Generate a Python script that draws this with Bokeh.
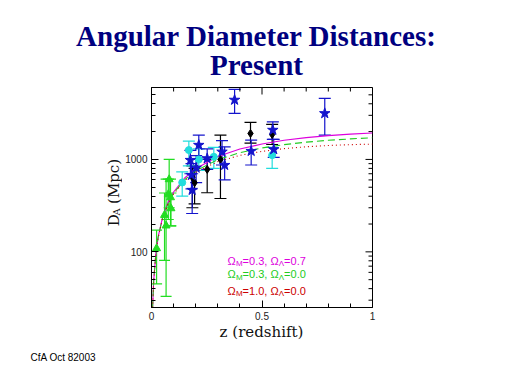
import math
from bokeh.plotting import figure
from bokeh.layouts import column, row
from bokeh.models import (Range1d, FixedTicker, Whisker, TeeHead,
                          ColumnDataSource, Label)
from bokeh.embed import file_html
from bokeh.resources import INLINE

# ---------------- data ----------------
title_lines = ["Angular Diameter Distances:", "Present"]
x_label = "z (redshift)"
y_label_parts = ["D", "A", "(Mpc)"]
footer = "CfA Oct 82003"
x_ticks = [0, 0.5, 1]
x_tick_labels = ["0", "0.5", "1"]
x_minor = [0.1, 0.2, 0.3, 0.4, 0.6, 0.7, 0.8, 0.9]
y_ticks = [100, 1000]
y_tick_labels = ["100", "1000"]
y_minor = [30, 40, 50, 60, 70, 80, 90, 200, 300, 400, 500, 600, 700, 800, 900,
           2000, 3000, 4000, 5000, 6000]

# model curves
z_model = [0.005, 0.01, 0.02, 0.03, 0.05, 0.075, 0.1, 0.15, 0.2, 0.3, 0.4, 0.5,
           0.6, 0.7, 0.8, 0.9, 1.0]
D_lcdm = [25, 49, 98, 145, 236, 344, 444, 630, 794, 1073, 1294, 1470, 1610, 1721,
          1808, 1876, 1929]
D_open = [25, 49, 97, 143, 232, 335, 431, 603, 752, 996, 1184, 1331, 1446, 1538,
          1610, 1668, 1714]
D_eds = [25, 49, 97, 142, 230, 330, 423, 587, 726, 946, 1106, 1223, 1309, 1371,
         1415, 1445, 1464]

# green triangles
g_z = [0.023, 0.059, 0.066, 0.076, 0.080, 0.086, 0.088]
g_D = [109, 250, 192, 418, 608, 388, 295]
g_lo = [45, 81, 33, 224, 300, 191, 191]
g_hi = [172, 433, 612, 612, 1000, 612, 433]

# cyan points
c_z = [0.139, 0.169, 0.214, 0.282, 0.546]
c_D = [563, 1262, 1000, 1067, 1113]
c_lo = [400, 850, 760, 800, 800]
c_hi = [735, 1580, 1300, 1350, 1350]

# blue stars
b_z = [0.176, 0.181, 0.184, 0.202, 0.214, 0.252, 0.319, 0.331, 0.376, 0.451,
       0.549, 0.553, 0.784]
b_D = [983, 676, 466, 810, 1430, 1025, 1208, 867, 4400, 1230, 2080, 1283, 3150]
b_lo = [700, 480, 260, 560, 1000, 780, 870, 600, 3150, 870, 1650, 1050, 1830]
b_hi = [1250, 900, 700, 1100, 1833, 1300, 1600, 1370, 5730, 1620, 2550, 1650, 4575]

# black diamonds
k_z = [0.185, 0.195, 0.252, 0.312, 0.448, 0.546]
k_D = [640, 560, 780, 1000, 1910, 1860]
k_lo = [300, 330, 436, 378, 1500, 1450]
k_hi = [850, 800, 1000, 1833, 2520, 2400]

legend_lines = [
    (["\u03a9", "M", "=0.3, \u03a9", "\u039b", "=0.7"], "#dd00dd"),
    (["\u03a9", "M", "=0.3, \u03a9", "\u039b", "=0.0"], "#22cc22"),
    (["\u03a9", "M", "=1.0, \u03a9", "\u039b", "=0.0"], "#cc0000"),
]

# ---------------- page layout (pixels) ----------------
W, H = 512, 384
FL, FR, FT, FB = 151, 372, 87, 307     # plot frame edges on the page
TOP_H = 86                             # title strip
LEFT_W = 122                           # y-label strip
MID_H = 238                            # main plot height
BOT_H = H - TOP_H - MID_H
X0, X1, Y0, Y1 = 0, 1, 25, 6000

def text_fig(w, h):
    f = figure(width=w, height=h, x_range=Range1d(0, w), y_range=Range1d(0, h),
               x_axis_location=None, y_axis_location=None, min_border=0,
               title=None, output_backend="svg", toolbar_location=None)
    f.grid.visible = False
    f.outline_line_color = None
    f.background_fill_color = "white"
    f.border_fill_color = "white"
    return f

def put(f, ox, oy, h, text, px, py, size, color, font, **kw):
    f.add_layout(Label(x=px - ox, y=h - (py - oy), text=text,
                       text_font_size=f"{size}px", text_color=color,
                       text_font=font, text_baseline="middle", **kw))

# ---- title strip
ft = text_fig(W, TOP_H)
for line, cy in zip(title_lines, [35, 64.5]):
    put(ft, 0, 0, TOP_H, line, 256, cy, 29, "#000080", "Liberation Serif",
        text_font_style="bold", text_align="center")

# ---- y-label strip (rotated, reading upwards)
fl = text_fig(LEFT_W, MID_H)
ang = math.pi / 2
put(fl, 0, TOP_H, MID_H, y_label_parts[0], 113, 236, 15, "#111111", "DejaVu Serif",
    angle=ang, text_align="left")
put(fl, 0, TOP_H, MID_H, y_label_parts[1], 116, 224.5, 10, "#111111", "DejaVu Serif",
    angle=ang, text_align="left")
put(fl, 0, TOP_H, MID_H, y_label_parts[2], 113, 212, 15, "#111111", "DejaVu Serif",
    angle=ang, text_align="left")

# ---- bottom strip
fb = text_fig(W, BOT_H)
put(fb, 0, TOP_H + MID_H, BOT_H, x_label, 261, 331, 15, "#111111", "DejaVu Serif",
    text_align="center")
put(fb, 0, TOP_H + MID_H, BOT_H, footer, 30, 357, 10, "black", "Liberation Sans",
    text_align="left")

# ---- main plot
MW = W - LEFT_W
p = figure(width=MW, height=MID_H, x_range=Range1d(X0, X1), y_range=Range1d(Y0, Y1),
           y_axis_type="log", output_backend="svg", toolbar_location=None,
           title=None,
           min_border_left=FL - LEFT_W, min_border_right=W - FR,
           min_border_top=FT - TOP_H, min_border_bottom=TOP_H + MID_H - FB)
p.background_fill_color = "white"
p.border_fill_color = "white"
p.outline_line_color = "black"
p.outline_line_width = 1
p.grid.visible = False

TICK_FONT = "Liberation Sans"
MAJ, MIN = 7, 4

def style_axis(ax):
    ax.axis_line_color = "black"
    ax.major_tick_in = MAJ
    ax.major_tick_out = 0
    ax.minor_tick_in = MIN
    ax.minor_tick_out = 0
    ax.major_tick_line_color = "black"
    ax.minor_tick_line_color = "black"
    ax.major_label_text_font = TICK_FONT
    ax.major_label_text_color = "#222222"
    ax.major_label_text_font_size = "10px"

xax = p.xaxis[0]
xax.ticker = FixedTicker(ticks=x_ticks, minor_ticks=x_minor)
xax.major_label_overrides = {t: s for t, s in zip(x_ticks, x_tick_labels)}
xax.major_label_standoff = 4
style_axis(xax)

yax = p.yaxis[0]
yax.ticker = FixedTicker(ticks=y_ticks, minor_ticks=y_minor)
yax.major_label_overrides = {t: s for t, s in zip(y_ticks, y_tick_labels)}
yax.major_label_standoff = 4
style_axis(yax)

# inward ticks on the top and right edges
fw, fh = FR - FL, FB - FT
decades = math.log10(Y1 / Y0)
def ydown(px):
    return Y1 / 10 ** (px * decades / fh)
tx = x_ticks + x_minor
tl = [MAJ] * len(x_ticks) + [MIN] * len(x_minor)
p.segment(x0=tx, y0=[Y1] * len(tx), x1=tx, y1=[ydown(l) for l in tl],
          line_color="black", line_width=1)
ty = y_ticks + y_minor
tyl = [MAJ] * len(y_ticks) + [MIN] * len(y_minor)
p.segment(x0=[X1] * len(ty), y0=ty, x1=[X1 - l / fw for l in tyl], y1=ty,
          line_color="black", line_width=1)

# curves
p.line(z_model, D_lcdm, line_color="#dd00dd", line_width=1.1)
p.line(z_model, D_open, line_color="#22cc22", line_width=1.1, line_dash="7 4")
p.line(z_model, D_eds, line_color="#cc0000", line_width=1.1, line_dash="1 3")

# data points with error bars
def errs(zs, ds, lo, hi, color, cap):
    src = ColumnDataSource(dict(z=zs, d=ds, lo=lo, hi=hi))
    w = Whisker(source=src, base="z", lower="lo", upper="hi", line_color=color,
                line_width=1.2,
                upper_head=TeeHead(size=cap, line_color=color, line_width=1.2),
                lower_head=TeeHead(size=cap, line_color=color, line_width=1.2))
    w.level = "underlay"
    p.add_layout(w)
    return src

sg = errs(g_z, g_D, g_lo, g_hi, "#22dd22", 11)
sk = errs(k_z, k_D, k_lo, k_hi, "black", 12)
sc = errs(c_z, c_D, c_lo, c_hi, "#22dddd", 12)
sb = errs(b_z, b_D, b_lo, b_hi, "#1414cc", 12)

p.scatter("z", "d", source=sg, marker="triangle", size=8, color="#22dd22")
p.scatter("z", "d", source=sk, marker="diamond", size=8, color="black")
p.scatter("z", "d", source=sc, marker="circle", size=7, color="#22dddd")
p.scatter("z", "d", source=sb, marker="star", size=11, color="#1414cc")

# legend texts inside the frame (screen units relative to the frame)
def lab(text, px, py, size, color, font, **kw):
    p.add_layout(Label(x=px - FL, y=FB - py, x_units="screen", y_units="screen",
                       text=text, text_font_size=f"{size}px", text_color=color,
                       text_font=font, **kw))

leg_y = [260, 273.5, 290]
offs = [0, 8.4, 15.1, 51.3, 56.6]
for (pieces, col), yy in zip(legend_lines, leg_y):
    for i, (piece, dx) in enumerate(zip(pieces, offs)):
        sub = i in (1, 3)
        lab(piece, 227 + dx, yy + (3 if sub else 0), 8 if sub else 11, col,
            "Liberation Sans", text_align="left", text_baseline="middle")

layout = column(ft, row(fl, p, spacing=0), fb, spacing=0)
open("out.html", "w").write(file_html(layout, INLINE))
